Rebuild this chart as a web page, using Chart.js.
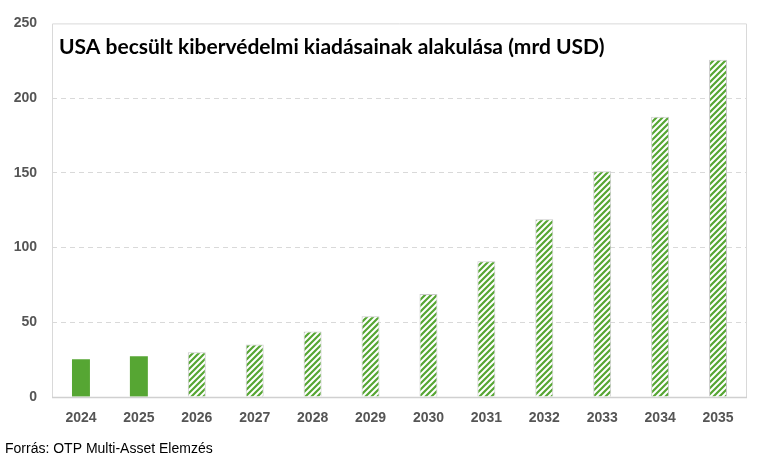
<!DOCTYPE html>
<html>
<head>
<meta charset="utf-8">
<script src="https://cdn.jsdelivr.net/npm/chart.js@4"></script>
<style>
  html, body { margin: 0; padding: 0; background: #fff; }
  #wrap { width: 766px; height: 459px; position: relative; }
</style>
</head>
<body>
<div id="wrap"><canvas id="chart" width="766" height="459"></canvas></div>
<script>
const years = ["2024", "2025", "2026", "2027", "2028", "2029", "2030", "2031", "2032", "2033", "2034", "2035"];
const spending = [25.2, 27.2, 29.9, 35.2, 43.9, 54.1, 68.9, 90.9, 119, 151, 187.6, 225.7];
const estimated = [false, false, true, true, true, true, true, true, true, true, true, true];
const yTicks = [0, 50, 100, 150, 200, 250];

const titleText = "USA becsült kibervédelmi kiadásainak alakulása (mrd USD)";
const sourceText = "Forrás: OTP Multi-Asset Elemzés";

const green = "#56a633";

function makeHatch() {
  const c = document.createElement("canvas");
  c.width = 6;
  c.height = 6;
  const g = c.getContext("2d");
  g.fillStyle = "#fff";
  g.fillRect(0, 0, 6, 6);
  g.strokeStyle = green;
  g.lineWidth = 2.2;
  g.beginPath();
  g.moveTo(-1, 7); g.lineTo(7, -1);
  g.moveTo(-4, 4); g.lineTo(4, -4);
  g.moveTo(2, 10); g.lineTo(10, 2);
  g.stroke();
  return g.createPattern(c, "repeat");
}

const hatch = makeHatch();

const frame = {
  id: "frame",
  beforeDatasetsDraw(chart) {
    const { ctx, chartArea: a } = chart;
    ctx.save();
    ctx.strokeStyle = "#d9d9d9";
    ctx.lineWidth = 1;
    ctx.beginPath();
    ctx.moveTo(a.left + 0.5, a.bottom);
    ctx.lineTo(a.left + 0.5, a.top + 0.5);
    ctx.lineTo(a.right - 0.5, a.top + 0.5);
    ctx.lineTo(a.right - 0.5, a.bottom);
    ctx.stroke();
    ctx.restore();
  },
  afterDatasetsDraw(chart) {
    const { ctx, chartArea: a } = chart;
    ctx.save();
    ctx.strokeStyle = "#d0d0d0";
    ctx.lineWidth = 1.5;
    ctx.beginPath();
    ctx.moveTo(a.left, a.bottom + 0.5);
    ctx.lineTo(a.right, a.bottom + 0.5);
    ctx.stroke();
    ctx.restore();
  },
  afterDraw(chart) {
    const { ctx, chartArea: a } = chart;
    ctx.save();
    ctx.fillStyle = "#000";
    ctx.font = "bold 21px Lato";
    ctx.textBaseline = "alphabetic";
    ctx.fillText(titleText, a.left + 7, a.top + 31);
    ctx.fillStyle = "#000";
    ctx.font = "14px 'Liberation Sans'";
    ctx.fillText(sourceText, 5, 453);
    ctx.restore();
  }
};

new Chart(document.getElementById("chart"), {
  type: "bar",
  data: {
    labels: years,
    datasets: [{
      data: spending,
      backgroundColor: estimated.map(e => e ? hatch : green),
      borderColor: estimated.map(e => e ? "#c9c9c9" : green),
      borderWidth: estimated.map(e => e ? 1 : 0),
      barPercentage: 0.31,
      categoryPercentage: 1
    }]
  },
  options: {
    responsive: false,
    animation: false,
    layout: { padding: { left: 0, right: 19, top: 23, bottom: 22 } },
    plugins: { legend: { display: false }, tooltip: { enabled: false } },
    scales: {
      x: {
        grid: { display: false, drawTicks: false },
        border: { display: false },
        ticks: { color: "#555555", font: { family: "Liberation Sans", size: 14, weight: "bold" }, padding: 13 },
        afterFit(s) { s.height = 40; }
      },
      y: {
        min: 0,
        max: 250,
        afterBuildTicks(s) { s.ticks = yTicks.map(v => ({ value: v })); },
        grid: {
          drawTicks: false,
          color: c => (c.tick && (c.tick.value === 0 || c.tick.value === 250)) ? "rgba(0,0,0,0)" : "#d9d9d9"
        },
        border: { display: false, dash: [5, 4] },
        ticks: { color: "#555555", font: { family: "Liberation Sans", size: 14, weight: "bold" }, padding: 15 },
        afterFit(s) { s.width = 52; }
      }
    }
  },
  plugins: [frame]
});
</script>
</body>
</html>
